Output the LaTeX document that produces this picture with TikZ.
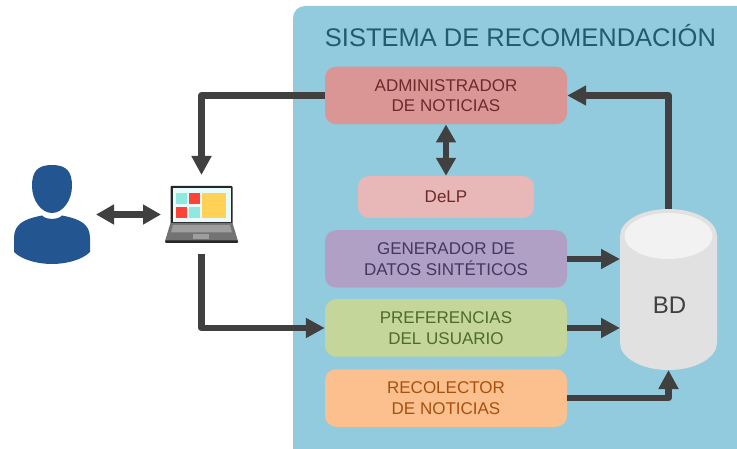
\documentclass[tikz,border=0pt]{standalone}
\usepackage{fontspec}
\setmainfont{Liberation Sans}
\usetikzlibrary{arrows.meta,calc}
\definecolor{panelc}{HTML}{92CBDD}
\definecolor{arrowc}{HTML}{404040}
\definecolor{personc}{HTML}{235590}
\definecolor{titlec}{HTML}{235A70}
\definecolor{adminf}{HTML}{DA9595}
\definecolor{admint}{HTML}{6E2A2A}
\definecolor{delpf}{HTML}{E8B7B7}
\definecolor{delpt}{HTML}{6E2A2A}
\definecolor{genf}{HTML}{B1A0C6}
\definecolor{gent}{HTML}{443760}
\definecolor{preff}{HTML}{C4D69A}
\definecolor{preft}{HTML}{4F6A2C}
\definecolor{recf}{HTML}{FBC08E}
\definecolor{rect}{HTML}{A9500F}
\definecolor{dbside}{HTML}{E1E1E1}
\definecolor{dbtop}{HTML}{F2F2F2}
\definecolor{tilecyan}{HTML}{8FE9E0}
\definecolor{tilered}{HTML}{FF4238}
\definecolor{tileyellow}{HTML}{FFD257}
\definecolor{screenc}{HTML}{E8FAFA}
\tikzset{
  x=1pt,y=-1pt,
  modbox/.style={rounded corners=11pt,minimum width=242pt,minimum height=57.5pt,align=center,inner sep=0pt,font=\fontsize{17}{20.5}\selectfont},
  conn/.style={draw=arrowc,line width=6.5pt,line join=round,-{Triangle[length=19pt,width=19pt]}},
  biconn/.style={draw=arrowc,line width=6.5pt,{Triangle[length=18pt,width=19pt]}-{Triangle[length=18pt,width=19pt]}},
  ghost/.style={inner sep=0pt,outer sep=0pt}
}
\begin{document}
\begin{tikzpicture}
\useasboundingbox (0,0) rectangle (737,449);
% panel
\fill[panelc,rounded corners=12pt] (293,6) rectangle (760,469);
\node[text=titlec,font=\fontsize{25.5}{30}\selectfont] (title) at (520.5,35.5) {SISTEMA DE RECOMENDACIÓN};
% modules
\node[modbox,fill=adminf,text=admint] (admin) at (446,95.5) {ADMINISTRADOR\\DE NOTICIAS};
\node[modbox,fill=delpf,text=delpt,minimum width=176pt,minimum height=42pt] (delp) at (446,197) {DeLP};
\node[modbox,fill=genf,text=gent] (gen) at (446,259) {GENERADOR DE\\DATOS SINTÉTICOS};
\node[modbox,fill=preff,text=preft] (pref) at (446,328) {PREFERENCIAS\\DEL USUARIO};
\node[modbox,fill=recf,text=rect] (rec) at (446,398) {RECOLECTOR\\DE NOTICIAS};
% database
\node[ghost,minimum width=97pt,minimum height=161pt] (db) at (668.5,289.5) {};
\fill[dbside] (620,236) arc[start angle=180,end angle=0,x radius=48.5,y radius=-27] -- (717,343)
  arc[start angle=0,end angle=180,x radius=48.5,y radius=27] -- cycle;
\fill[dbtop] (668.5,236) ellipse[x radius=44,y radius=23];
\node[text=arrowc,font=\fontsize{24}{28}\selectfont] (dbtext) at (669.5,305) {BD};
% person
\node[ghost,minimum width=76pt,minimum height=99pt] (person) at (52,214.5) {};
\fill[personc] (52,165) .. controls (67,165) and (72,172) .. (72,186)
  .. controls (72,200) and (63,213) .. (52,213)
  .. controls (41,213) and (32,200) .. (32,186)
  .. controls (32,172) and (37,165) .. (52,165) -- cycle;
\fill[personc] (14,252) -- (14,238) .. controls (14,224) and (24,219) .. (42,215.5)
  .. controls (46,220) and (58,220) .. (62,215.5)
  .. controls (80,219) and (90,224) .. (90,238) -- (90,252)
  .. controls (82,260) and (66,264) .. (52,264)
  .. controls (38,264) and (22,260) .. (14,252) -- cycle;
% laptop
\node[ghost,minimum width=73pt,minimum height=57pt] (laptop) at (201.5,214.5) {};
\fill[black!85,rounded corners=1pt] (170.5,186) rectangle (232.5,224);
\fill[screenc] (172.5,188.5) rectangle (230.5,222);
\fill[black!55] (170.5,223) -- (232.5,223) -- (238,241) -- (165,241) -- cycle;
\fill[black!38] (173,225) -- (230,225) -- (232,232.5) -- (171,232.5) -- cycle;
\fill[black!38] (193,234.5) rectangle (209,239);
\fill[black!85,rounded corners=1pt] (165,240.5) rectangle (238,243);
\fill[tilecyan] (176,193) rectangle (187,204);
\fill[tilered] (189,193) rectangle (200,204);
\fill[tilered] (176,207) rectangle (187,218);
\fill[tilecyan] (189,207) rectangle (200,218);
\fill[tileyellow] (202,193) rectangle (226,218);
% connectors
\draw[biconn,shorten <=6pt,shorten >=4pt] (person.east) -- (laptop.west);
\draw[conn,shorten >=11pt] (admin.west) -| (laptop.north);
\draw[conn,shorten <=11pt] (laptop.south) |- (pref.west);
\draw[biconn] (admin.south) -- (delp.north);
\draw[conn] (db.north) |- (admin.east);
\draw[conn] (gen.east) -- (gen.east -| db.west);
\draw[conn] (pref.east) -- (pref.east -| db.west);
\draw[conn] (rec.east) -| (db.south);
\end{tikzpicture}
\end{document}
